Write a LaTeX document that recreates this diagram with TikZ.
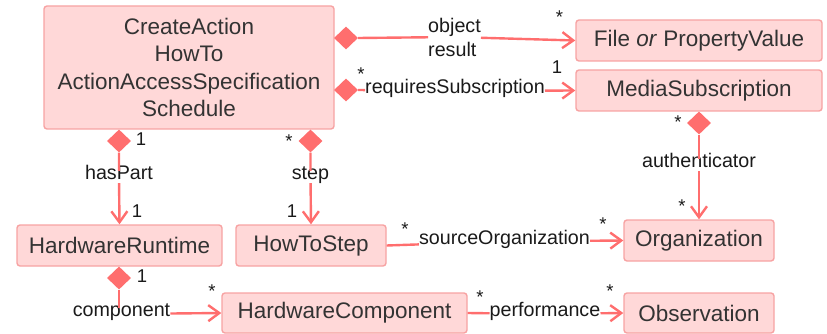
\documentclass[tikz,border=0pt]{standalone}
\usepackage{fontspec}
\setmainfont{Liberation Sans}
\usetikzlibrary{arrows.meta,shapes.geometric}

\definecolor{boxfill}{HTML}{FFD8D8}
\definecolor{boxline}{HTML}{F7A3A3}
\definecolor{linkc}{HTML}{FF6E6E}
\definecolor{boxtext}{HTML}{333333}
\definecolor{lbltext}{HTML}{1A1A1A}

\tikzset{
  cls/.style={draw=boxline, fill=boxfill, line width=1.4pt, rounded corners=3pt,
    text=boxtext, font=\fontsize{22.5}{27.3}\selectfont, inner sep=0pt, align=center},
  dia/.style={shape=diamond, fill=linkc, draw=none, inner sep=0pt,
    minimum width=24pt, minimum height=23pt},
  lblbase/.style={text=lbltext, font=\fontsize{19.7}{24}\selectfont,
    inner xsep=0pt, inner ysep=1pt},
  lbl/.style={lblbase, text height=0.75em, text depth=0.25em},
  mult/.style={text=lbltext, font=\fontsize{18.5}{20}\selectfont, inner sep=0pt},
  link/.style={draw=linkc, line width=2.4pt},
  nav/.style={link, -{Straight Barb[length=11pt,width=16pt]}}
}

\begin{document}
\begin{tikzpicture}[x=1pt, y=-1pt]
\useasboundingbox (0,0) rectangle (827,334);

% classes
\node[cls, minimum width=290pt, minimum height=123pt] (main) at (189,67.5)
  {CreateAction\\HowTo\\ActionAccessSpecification\\Schedule};
\node[cls, minimum width=246pt, minimum height=41pt] (fpv) at (699,40.5) {File \textit{or} PropertyValue};
\node[cls, minimum width=246pt, minimum height=41pt] (ms) at (699,90.5) {MediaSubscription};
\node[cls, minimum width=205pt, minimum height=41pt] (hr) at (119.5,245.5) {HardwareRuntime};
\node[cls, minimum width=150pt, minimum height=41pt] (hts) at (311,245.5) {HowToStep};
\node[cls, minimum width=150pt, minimum height=41pt] (org) at (699,240.5) {Organization};
\node[cls, minimum width=245pt, minimum height=40pt] (hc) at (344.5,313) {HardwareComponent};
\node[cls, minimum width=150pt, minimum height=40pt] (obs) at (699,313) {Observation};

% composition diamonds
\node[dia] (dobj) at (346,38) {};
\node[dia] (dreq) at (346,90) {};
\node[dia] (dhas) at (119,141) {};
\node[dia] (dstep) at (310.5,141) {};
\node[dia] (dms) at (699,123) {};
\node[dia] (dhr) at (119,278) {};

% role labels
\node[lblbase, align=left] (lobj) at (454.5,37) {object\\result};
\node[lbl] (lreq) at (455,91) {requiresSubscription};
\node[lbl] (lhas) at (119,177) {hasPart};
\node[lbl] (lstep) at (310.5,177) {step};
\node[lbl] (lauth) at (699,165) {authenticator};
\node[lbl] (lsrc) at (504.5,241.5) {sourceOrganization};
\node[lbl] (lcomp) at (121.5,314) {component};
\node[lbl] (lperf) at (545,314) {performance};

% associations
\draw[nav] (dobj.east) -- (lobj) -- (fpv.west);
\draw[nav] (dreq.east) -- (lreq) -- (ms.west);
\draw[nav] (dhas.south) -- (lhas) -- (hr.north);
\draw[nav] (dstep.south) -- (lstep) -- (hts.north);
\draw[nav] (dms.south) -- (lauth) -- (org.north);
\draw[nav] (hts.east) -- (lsrc) -- (org.west);
\draw[link] (dhr.south) -- (dhr.south |- lcomp.north);
\draw[nav] (lcomp) -- (hc.west);
\draw[nav] (hc.east) -- (lperf) -- (obs.west);

% multiplicities
\node[mult] (m1) at (559.5,17) {*};
\node[mult] (m2) at (361,74) {*};
\node[mult] (m3) at (557,67) {1};
\node[mult] (m4) at (141,139) {1};
\node[mult] (m5) at (137,211) {1};
\node[mult] (m6) at (289,141) {*};
\node[mult] (m7) at (292,211) {1};
\node[mult] (m8) at (678,122) {*};
\node[mult] (m9) at (682,206) {*};
\node[mult] (m10) at (405,229) {*};
\node[mult] (m11) at (603,224) {*};
\node[mult] (m12) at (142,276) {1};
\node[mult] (m13) at (212,291) {*};
\node[mult] (m14) at (480,297) {*};
\node[mult] (m15) at (610,291) {*};
\end{tikzpicture}
\end{document}
